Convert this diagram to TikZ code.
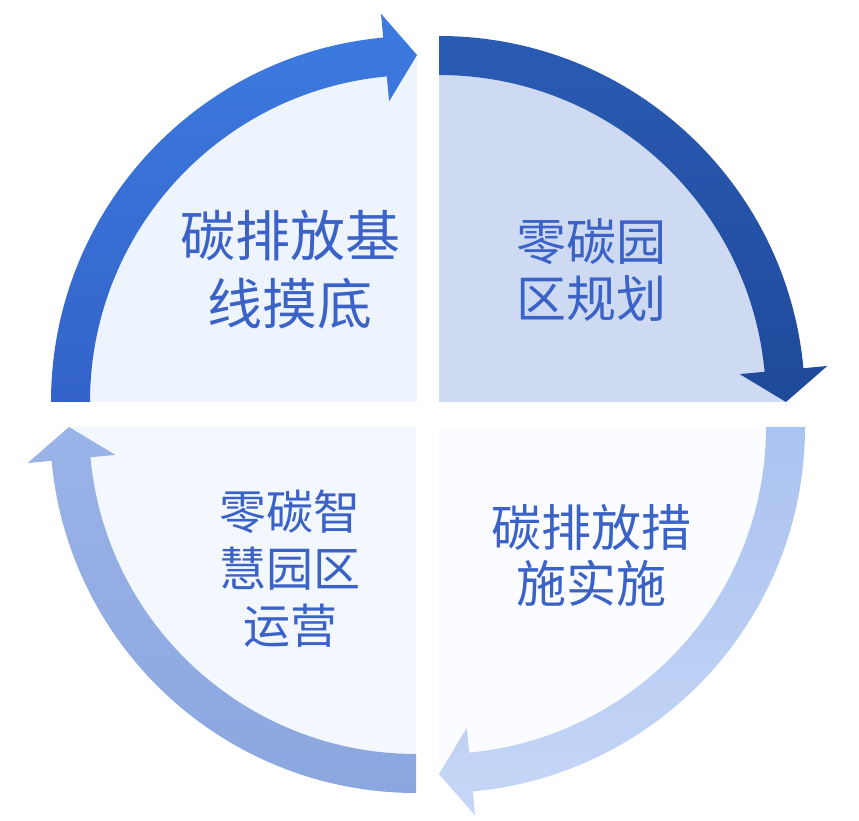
\documentclass[tikz,border=0pt]{standalone}
\usepackage{fontspec}
\newfontfamily\cjk{Noto Sans CJK SC}
\definecolor{textblue}{HTML}{3B63C7}
\definecolor{tlfill}{HTML}{EEF4FD}
\definecolor{trfill}{HTML}{CDDAF1}
\definecolor{brfill}{HTML}{FAFCFF}
\definecolor{blfill}{HTML}{F3F7FE}
\definecolor{tlbandA}{HTML}{3D7BE0}
\definecolor{tlbandB}{HTML}{3363C8}
\definecolor{trbandA}{HTML}{2A5BB3}
\definecolor{trbandB}{HTML}{1F4A9B}
\definecolor{brbandA}{HTML}{ABC3F0}
\definecolor{brbandB}{HTML}{C6D6F6}
\definecolor{blbandA}{HTML}{9AB3E8}
\definecolor{blbandB}{HTML}{8BA7DF}
\newcommand*{\RadOut}{366pt}
\newcommand*{\RadIn}{327pt}
\newcommand*{\RadHeadOut}{390pt}
\newcommand*{\RadHeadIn}{302pt}
\newcommand*{\RadTip}{347pt}
\newcommand*{\RadFill}{347pt}
\newcommand*{\HeadAt}{84.7}
\newcommand*{\DrawStages}[1]{% #1 = list of corner x/corner y/start angle/fill/band top/band bottom
  \foreach \cx/\cy/\s/\fillc/\bandtop/\bandbot in {#1} {
    \fill[\fillc, shift={(\cx,\cy)}] (0,0) -- (\s:\RadFill)
      arc[start angle=\s, delta angle=-90, radius=\RadFill] -- cycle;
    \shade[top color=\bandtop, bottom color=\bandbot, shift={(\cx,\cy)}]
      (\s:\RadOut) arc[start angle=\s, delta angle=-\HeadAt, radius=\RadOut]
      -- ({\s-\HeadAt}:\RadHeadOut) -- ({\s-90}:\RadTip)
      -- ({\s-\HeadAt}:\RadHeadIn) -- ({\s-\HeadAt}:\RadIn)
      arc[start angle={\s-\HeadAt}, delta angle=\HeadAt, radius=\RadIn] -- cycle;
    }%
}
\tikzset{stage/.style={text=textblue, align=center, inner sep=0pt}}

\begin{document}
\begin{tikzpicture}[x=1pt, y=1pt]
  \useasboundingbox (0,0) rectangle (859,820);
  \fill[white] (0,0) rectangle (859,820);
  \DrawStages{417/418/180/tlfill/tlbandA/tlbandB, 439/418/90/trfill/trbandA/trbandB,
    439/393/0/brfill/brbandA/brbandB, 416/393/270/blfill/blbandA/blbandB}
  \node[stage, font=\cjk\fontsize{55}{68}\selectfont] (base) at (290,550) {碳排放基\\线摸底};
  \node[stage, font=\cjk\fontsize{50}{57}\selectfont] (plan) at (591,550) {零碳园\\区规划};
  \node[stage, font=\cjk\fontsize{50}{56}\selectfont] (measure) at (591,265) {碳排放措\\施实施};
  \node[stage, font=\cjk\fontsize{47}{57}\selectfont] (operate) at (290,251.5) {零碳智\\慧园区\\运营};
\end{tikzpicture}
\end{document}
